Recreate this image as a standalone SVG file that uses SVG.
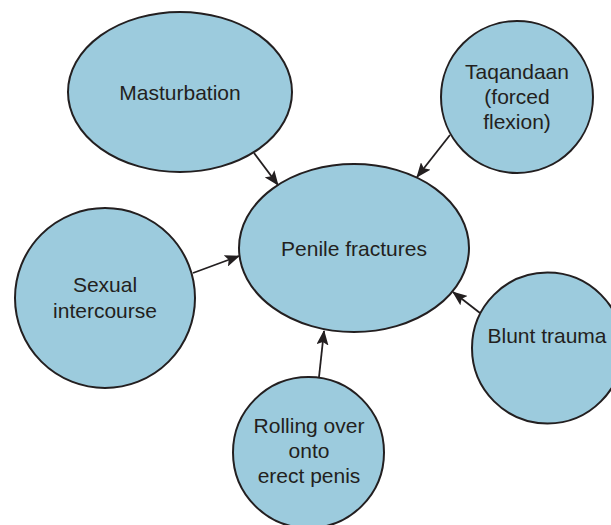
<svg xmlns="http://www.w3.org/2000/svg" width="611" height="525" viewBox="0 0 611 525">
<style>
.node{fill:#9ccbdd;stroke:#231f20;stroke-width:2}
.lbl{font-family:"Liberation Sans",Arial,sans-serif;font-size:21px;fill:#231f20;text-anchor:middle}
.edge{stroke:#231f20;stroke-width:1.8;fill:none;marker-end:url(#ah)}
</style>
<defs>
<marker id="ah" markerUnits="userSpaceOnUse" markerWidth="16" markerHeight="12" refX="14" refY="6" orient="auto">
<path d="M0,0 L15,6 L0,12 L3,6 z" fill="#231f20"/>
</marker>
</defs>
<rect width="611" height="525" fill="#fff"/>
<g id="n-masturbation"><ellipse class="node" cx="180" cy="92" rx="112" ry="80"/><text class="lbl" x="180" y="100">Masturbation</text></g>
<g id="n-taqandaan"><circle class="node" cx="517" cy="97" r="76"/><text class="lbl" x="517" y="79">Taqandaan</text><text class="lbl" x="517" y="104">(forced</text><text class="lbl" x="517" y="128.5">flexion)</text></g>
<g id="n-sexual"><circle class="node" cx="105" cy="298" r="90"/><text class="lbl" x="105" y="292">Sexual</text><text class="lbl" x="105" y="318">intercourse</text></g>
<g id="n-penile"><ellipse class="node" cx="354" cy="248" rx="115" ry="84"/><text class="lbl" x="354" y="256">Penile fractures</text></g>
<g id="n-blunt"><circle class="node" cx="547.5" cy="348" r="75.5"/><text class="lbl" x="547" y="343">Blunt trauma</text></g>
<g id="n-rolling"><circle class="node" cx="308.5" cy="452.5" r="75.5"/><text class="lbl" x="309" y="433">Rolling over</text><text class="lbl" x="309" y="458">onto</text><text class="lbl" x="309" y="483">erect penis</text></g>
<g id="edges">
<line class="edge" x1="254" y1="153" x2="278" y2="185"/>
<line class="edge" x1="450" y1="135" x2="417" y2="177"/>
<line class="edge" x1="193" y1="273" x2="239" y2="256"/>
<line class="edge" x1="480" y1="313" x2="453" y2="292"/>
<line class="edge" x1="319" y1="377" x2="324" y2="331"/>
</g>
</svg>
